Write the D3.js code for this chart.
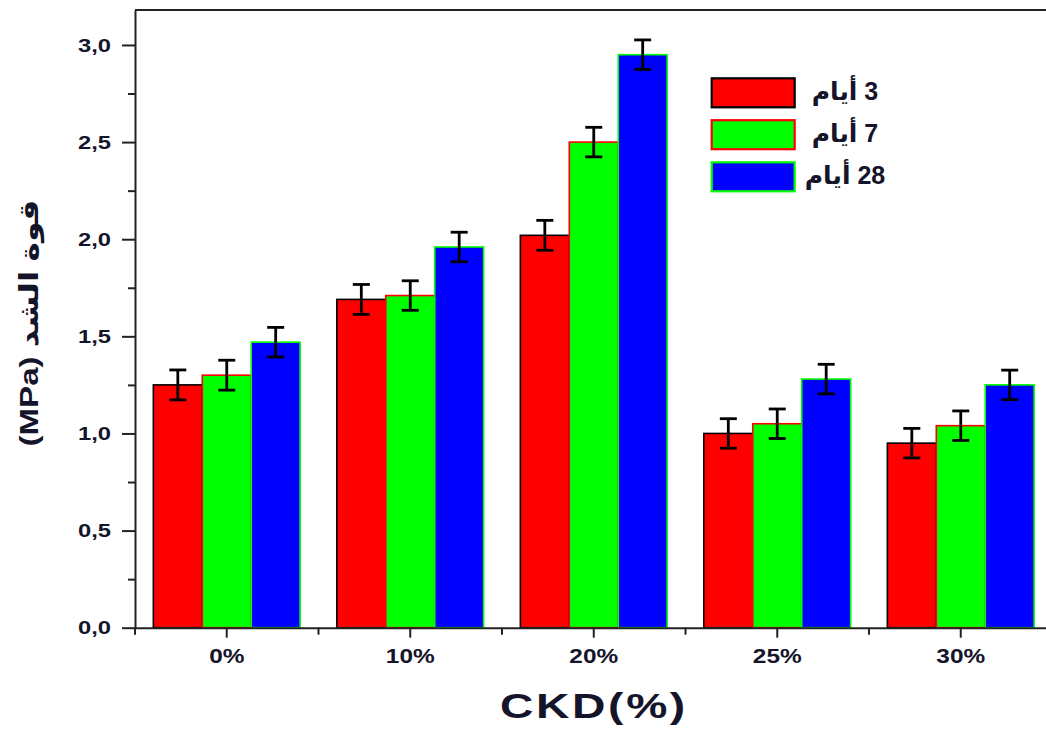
<!DOCTYPE html>
<html>
<head>
<meta charset="utf-8">
<script src="https://cdn.jsdelivr.net/npm/d3@7"></script>
<style>
  html, body { margin: 0; padding: 0; background: #fff; }
  svg { display: block; }
  text { font-family: "Liberation Sans", Arial, "DejaVu Sans", sans-serif; font-weight: bold; fill: #14142a; }
</style>
</head>
<body>
<script>
// Tensile strength (MPa) by CKD replacement level, for three curing ages
const categories = ["0%", "10%", "20%", "25%", "30%"];
const seriesNames = ["3 أيام", "7 أيام", "28 أيام"];
const day3  = [1.25, 1.69, 2.02, 1.00, 0.95];
const day7  = [1.30, 1.71, 2.50, 1.05, 1.04];
const day28 = [1.47, 1.96, 2.95, 1.28, 1.25];
const err3  = [0.077, 0.077, 0.077, 0.076, 0.076];
const err7  = [0.077, 0.076, 0.076, 0.076, 0.076];
const err28 = [0.076, 0.076, 0.076, 0.076, 0.076];
const yTickValues = [0, 0.5, 1.0, 1.5, 2.0, 2.5, 3.0];
const yTickLabels = ["0,0", "0,5", "1,0", "1,5", "2,0", "2,5", "3,0"];
const yMinorValues = [0.25, 0.75, 1.25, 1.75, 2.25, 2.75];
const xTitle = "CKD(%)";
const yTitle = "(MPa) قوة الشد";

const fills   = ["#ff0000", "#00ff00", "#0000ff"];
const strokes = ["#000000", "#ff0000", "#00ff00"];

const values = [day3, day7, day28];
const errors = [err3, err7, err28];

const W = 1046, H = 731;
const svg = d3.select("body").append("svg").attr("width", W).attr("height", H);

const plotLeft = 135, plotBottom = 627.7, plotTop = 10, plotRight = 1052.5;
const x0 = d3.scaleBand().domain(categories).range([plotLeft, plotRight]);
const groupW = x0.bandwidth() * 0.8;
const x1 = d3.scaleBand().domain(d3.range(seriesNames.length)).range([0, groupW]);
const y = d3.scaleLinear().domain([0, 3.18]).range([plotBottom, plotTop]);

// stretch a text element horizontally by factor k
function widen(sel, k) {
  sel.each(function () {
    const w = this.getComputedTextLength();
    d3.select(this).attr("textLength", w * k).attr("lengthAdjust", "spacingAndGlyphs");
  });
}

// bars
const rows = [];
categories.forEach((c, i) => {
  seriesNames.forEach((s, j) => {
    rows.push({ c, j, v: values[j][i], e: errors[j][i] });
  });
});

const gBars = svg.append("g");
gBars.selectAll("rect").data(rows).join("rect")
  .attr("x", d => x0(d.c) + x0.bandwidth() * 0.1 + x1(d.j))
  .attr("width", x1.bandwidth())
  .attr("y", d => y(d.v))
  .attr("height", d => y(0) - y(d.v))
  .attr("fill", d => fills[d.j])
  .attr("stroke", d => strokes[d.j])
  .attr("stroke-width", 1.6);

// error bars
const cap = 8.5;
const gErr = svg.append("g").attr("stroke", "#000").attr("stroke-width", 2.8);
rows.forEach(d => {
  const cx = x0(d.c) + x0.bandwidth() * 0.1 + x1(d.j) + x1.bandwidth() / 2;
  const y1 = y(d.v + d.e), y2 = y(d.v - d.e);
  gErr.append("line").attr("x1", cx).attr("x2", cx).attr("y1", y1).attr("y2", y2);
  gErr.append("line").attr("x1", cx - cap).attr("x2", cx + cap).attr("y1", y1).attr("y2", y1);
  gErr.append("line").attr("x1", cx - cap).attr("x2", cx + cap).attr("y1", y2).attr("y2", y2);
});

// top frame line
svg.append("line").attr("x1", plotLeft).attr("x2", plotRight).attr("y1", plotTop).attr("y2", plotTop)
  .attr("stroke", "#222").attr("stroke-width", 2);

// y axis
const yAxis = svg.append("g").attr("transform", `translate(${plotLeft},0)`)
  .call(d3.axisLeft(y).tickValues(yTickValues).tickSize(13).tickSizeOuter(0).tickPadding(11)
    .tickFormat((d, i) => yTickLabels[i]));
svg.append("g").attr("transform", `translate(${plotLeft},0)`)
  .call(d3.axisLeft(y).tickValues(yMinorValues).tickSize(7).tickSizeOuter(0).tickFormat(""))
  .call(g => g.select(".domain").remove())
  .selectAll("line").attr("stroke", "#222").attr("stroke-width", 2);
yAxis.select(".domain").attr("stroke", "#222").attr("stroke-width", 2);
yAxis.selectAll(".tick line").attr("stroke", "#222").attr("stroke-width", 2);
yAxis.selectAll(".tick text").attr("font-size", 19).attr("fill", "#14142a").call(widen, 1.25);

// x axis
const xAxis = svg.append("g").attr("transform", `translate(0,${plotBottom})`)
  .call(d3.axisBottom(x0).tickSize(10).tickSizeOuter(0).tickPadding(11));
xAxis.select(".domain").attr("stroke", "#222").attr("stroke-width", 2);
xAxis.selectAll(".tick line").attr("stroke", "#222").attr("stroke-width", 2);
xAxis.selectAll(".tick text").attr("font-size", 20).attr("fill", "#14142a").call(widen, 1.22);
// ticks at band boundaries
const edges = categories.map(c => x0(c)).concat([plotRight]);
xAxis.selectAll(".edge").data(edges).join("line")
  .attr("class", "edge")
  .attr("x1", d => d).attr("x2", d => d).attr("y1", 0).attr("y2", 7)
  .attr("stroke", "#222").attr("stroke-width", 2);

// axis titles
svg.append("text")
  .attr("x", 594).attr("y", 718)
  .attr("text-anchor", "middle")
  .attr("font-size", 35)
  .attr("letter-spacing", 2)
  .text(xTitle)
  .call(widen, 1.32);

svg.append("text")
  .attr("transform", "translate(38,323) rotate(-90)")
  .attr("text-anchor", "middle")
  .attr("font-size", 26)
  .attr("textLength", 247)
  .attr("lengthAdjust", "spacingAndGlyphs")
  .text(yTitle);

// legend
const legend = svg.append("g");
const legY = [78.3, 120.2, 162.3];
seriesNames.forEach((name, j) => {
  legend.append("rect")
    .attr("x", 711.7).attr("y", legY[j]).attr("width", 83).attr("height", 29)
    .attr("fill", fills[j]).attr("stroke", strokes[j]).attr("stroke-width", 2.2);
  legend.append("text")
    .attr("x", 845).attr("y", legY[j] + 14.5 + 7)
    .attr("direction", "rtl")
    .attr("text-anchor", "middle")
    .attr("font-size", 25)
    .text(name);
});
</script>
</body>
</html>
